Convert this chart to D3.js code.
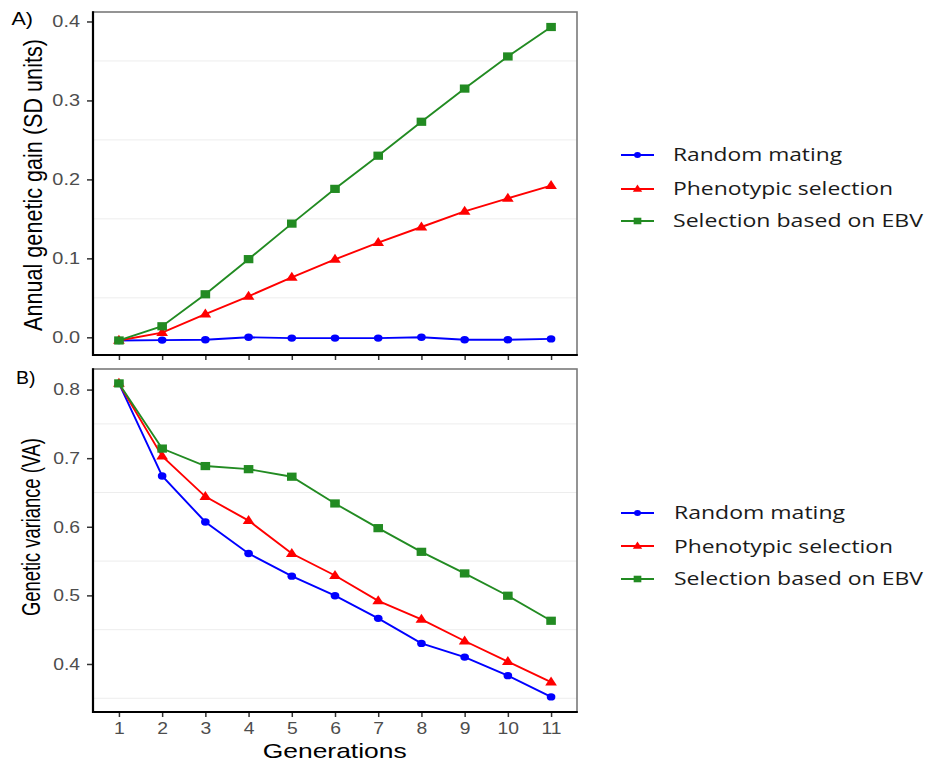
<!DOCTYPE html>
<html>
<head>
<meta charset="utf-8">
<script src="https://cdn.jsdelivr.net/npm/d3@7"></script>
<style>
  html, body { margin: 0; padding: 0; background: #fff; }
  svg { display: block; }
</style>
</head>
<body>
<svg id="chart" width="927" height="762"></svg>
<script>
// Generations simulated
const generations = [1, 2, 3, 4, 5, 6, 7, 8, 9, 10, 11];

// Panel A: annual genetic gain (SD units)
const gainRandom = [-0.004, -0.0035, -0.003, 0.0, -0.001, -0.001, -0.001, 0.0, -0.003, -0.003, -0.002];
const gainPheno  = [-0.004, 0.006, 0.0295, 0.052, 0.076, 0.0987, 0.120, 0.1397, 0.1595, 0.176, 0.192];
const gainEBV    = [-0.004, 0.014, 0.0545, 0.099, 0.144, 0.188, 0.230, 0.273, 0.315, 0.3557, 0.393];

// Panel B: additive genetic variance
const varRandom = [0.809, 0.674, 0.607, 0.561, 0.528, 0.4995, 0.4665, 0.430, 0.410, 0.383, 0.352];
const varPheno  = [0.809, 0.703, 0.644, 0.609, 0.561, 0.529, 0.492, 0.465, 0.4335, 0.4035, 0.3735];
const varEBV    = [0.809, 0.714, 0.6885, 0.684, 0.673, 0.634, 0.598, 0.5635, 0.532, 0.4995, 0.463];

// Axis ticks
const gainTicks = [0.0, 0.1, 0.2, 0.3, 0.4];
const gainMinor = [0.05, 0.15, 0.25, 0.35];
const varTicks  = [0.4, 0.5, 0.6, 0.7, 0.8];
const varMinor  = [0.35, 0.45, 0.55, 0.65, 0.75];

const seriesNames  = ["Random mating", "Phenotypic selection", "Selection based on EBV"];
const seriesColors = ["#0000ff", "#ff0000", "#228b22"];
const seriesShapes = ["circle", "triangle", "square"];

const svg = d3.select("#chart");
const AXIS_FONT = "'Liberation Sans', Arial, sans-serif";
const LEGEND_FONT = "'Open Sans', 'Noto Sans', sans-serif";
const SX = 1.17; // horizontal glyph widening used throughout

// widen a text element horizontally while keeping its anchor
function widen(sel, k) {
  sel.each(function() {
    const len = this.getComputedTextLength();
    d3.select(this).attr("textLength", len * k).attr("lengthAdjust", "spacingAndGlyphs");
  });
}
function fitLength(sel, len) {
  sel.attr("textLength", len).attr("lengthAdjust", "spacingAndGlyphs");
}

// vertical title: run length set by font size, glyph height by a horizontal scale
function verticalTitle(label, x, y, runLength, glyphSize) {
  const t = svg.append("text").attr("text-anchor", "middle").text(label)
    .style("font-family", AXIS_FONT).style("font-size", "20px").attr("fill", "#000");
  const fs = 20 * runLength / t.node().getComputedTextLength();
  t.style("font-size", fs + "px")
    .attr("transform", `translate(${x},${y}) scale(${glyphSize / fs},1) rotate(-90)`);
}

function marker(g, shape, x, y, color, s) {
  const m = g.append("g").attr("transform", `translate(${x},${y}) scale(${SX},1)`);
  if (shape === "circle") {
    m.append("circle").attr("r", 3.7 * s).attr("fill", color);
  } else if (shape === "square") {
    const h = 4.1 * s;
    m.append("rect").attr("x", -h).attr("y", -h).attr("width", 2 * h).attr("height", 2 * h).attr("fill", color);
  } else {
    const w = 5.0 * s, t = 5.6 * s, b = 3.4 * s;
    m.append("path").attr("d", `M0,${-t}L${w},${b}L${-w},${b}Z`).attr("fill", color);
  }
}

const xScale = d3.scaleLinear().domain([0.4, 11.6]).range([93, 577]);

function drawPanel(cfg) {
  const { top, bottom, yDomain, ticks, minor, series, showXLabels, tickFont } = cfg;
  const y = d3.scaleLinear().domain(yDomain).range([bottom, top]);
  const g = svg.append("g");

  // minor grid lines
  g.selectAll("line.grid").data(minor).join("line")
    .attr("x1", xScale.range()[0]).attr("x2", xScale.range()[1])
    .attr("y1", d => y(d)).attr("y2", d => y(d))
    .attr("stroke", "#ededed").attr("stroke-width", 1);

  // panel border (grey)
  g.append("rect")
    .attr("x", xScale.range()[0]).attr("y", top)
    .attr("width", xScale.range()[1] - xScale.range()[0]).attr("height", bottom - top)
    .attr("fill", "none").attr("stroke", "#7a7a7a").attr("stroke-width", 1.6);

  // y axis
  const yAxis = g.append("g").attr("transform", `translate(${xScale.range()[0]},0)`)
    .call(d3.axisLeft(y).tickValues(ticks).tickFormat(d3.format(".1f")).tickSize(6).tickPadding(7));
  yAxis.select(".domain").remove();
  yAxis.selectAll(".tick line").attr("stroke", "#333").attr("stroke-width", 1.5);
  yAxis.selectAll(".tick text").attr("fill", "#4d4d4d")
    .style("font-family", AXIS_FONT).style("font-size", tickFont + "px");
  widen(yAxis.selectAll(".tick text"), SX);

  // x axis
  const xAxis = g.append("g").attr("transform", `translate(0,${bottom})`)
    .call(d3.axisBottom(xScale).tickValues(generations).tickFormat(showXLabels ? d3.format("d") : () => "")
      .tickSize(5).tickPadding(5));
  xAxis.select(".domain").remove();
  xAxis.selectAll(".tick line").attr("stroke", "#333").attr("stroke-width", 1.5);
  xAxis.selectAll(".tick text").attr("fill", "#4d4d4d")
    .style("font-family", AXIS_FONT).style("font-size", "16.5px");
  if (showXLabels) widen(xAxis.selectAll(".tick text"), SX);

  // black axis lines on left and bottom
  g.append("line").attr("x1", xScale.range()[0]).attr("x2", xScale.range()[0])
    .attr("y1", top - 0.8).attr("y2", bottom + 1).attr("stroke", "#000").attr("stroke-width", 2.2);
  g.append("line").attr("x1", xScale.range()[0] - 1).attr("x2", xScale.range()[1] + 0.8)
    .attr("y1", bottom).attr("y2", bottom).attr("stroke", "#000").attr("stroke-width", 2.2);

  // lines then points
  const line = d3.line().x((d, i) => xScale(generations[i])).y(d => y(d));
  series.forEach((vals, k) => {
    g.append("path").datum(vals).attr("d", line)
      .attr("fill", "none").attr("stroke", seriesColors[k]).attr("stroke-width", 1.9);
  });
  series.forEach((vals, k) => {
    vals.forEach((v, i) => marker(g, seriesShapes[k], xScale(generations[i]), y(v), seriesColors[k], 1));
  });
  return y;
}

drawPanel({
  top: 12, bottom: 355, yDomain: [-0.0224, 0.412], ticks: gainTicks, minor: gainMinor,
  series: [gainRandom, gainPheno, gainEBV], showXLabels: false, tickFont: 17
});
drawPanel({
  top: 369, bottom: 712, yDomain: [0.33, 0.83], ticks: varTicks, minor: varMinor,
  series: [varRandom, varPheno, varEBV], showXLabels: true, tickFont: 16.5
});

// panel tags
svg.append("text").attr("x", 11.5).attr("y", 25).text("A)")
  .style("font-family", AXIS_FONT).style("font-size", "18.5px").attr("fill", "#000")
  .call(fitLength, 21.5);
svg.append("text").attr("x", 16).attr("y", 384).text("B)")
  .style("font-family", AXIS_FONT).style("font-size", "18.5px").attr("fill", "#000")
  .call(fitLength, 19.5);

// axis titles
verticalTitle("Annual genetic gain (SD units)", 41.5, 185, 292, 25);
verticalTitle("Genetic variance (VA)", 39.5, 527, 178, 25);
svg.append("text").attr("x", 334.7).attr("y", 757.5)
  .attr("text-anchor", "middle").text("Generations")
  .style("font-family", AXIS_FONT).style("font-size", "21px").attr("fill", "#000")
  .call(fitLength, 144);

// legends
function drawLegend(lineYs, textX, baselines, widths) {
  const g = svg.append("g");
  seriesNames.forEach((name, k) => {
    g.append("line").attr("x1", 621).attr("x2", 654).attr("y1", lineYs[k]).attr("y2", lineYs[k])
      .attr("stroke", seriesColors[k]).attr("stroke-width", 1.9);
    marker(g, seriesShapes[k], 637.5, lineYs[k], seriesColors[k], 0.8);
    g.append("text").attr("x", textX).attr("y", baselines[k]).text(name)
      .style("font-family", LEGEND_FONT).style("font-size", "17.5px").attr("fill", "#1a1a1a")
      .call(fitLength, widths[k]);
  });
}
drawLegend([155, 189, 221], 673, [161, 195, 227], [169, 220, 250]);
drawLegend([513, 546, 579], 674, [518.5, 552.5, 585], [171, 219, 249]);
</script>
</body>
</html>
